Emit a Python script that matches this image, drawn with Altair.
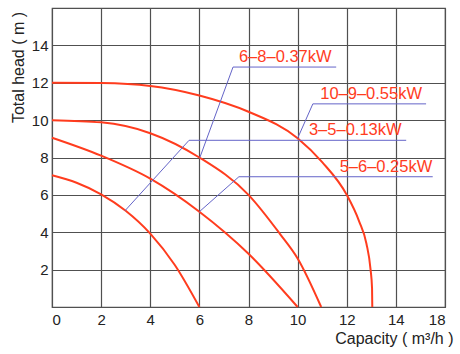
import altair as alt
import pandas as pd

# ---- data ----
curve_names = ["3-5", "5-6", "6-8", "10-9"]
curve_a_x = [0, 1, 2, 3, 4, 5, 6]
curve_a_y = [7.05, 6.65, 6.03, 5.15, 3.93, 2.25, 0]
curve_b_x = [0, 2, 4, 6, 8, 10]
curve_b_y = [9.06, 8.1, 6.87, 5.1, 2.85, 0]
curve_c_x = [0, 2, 4, 6, 8, 9.27, 10, 10.96]
curve_c_y = [10, 9.88, 9.3, 8.0, 6.0, 3.93, 2.6, 0]
curve_d_x = [0, 2, 4, 6, 8, 10, 11, 12, 12.5, 12.8, 12.97, 13.03, 13.04]
curve_d_y = [12, 11.98, 11.83, 11.32, 10.45, 9.03, 7.75, 6.0, 4.6, 3.4, 2.0, 1.0, 0]

label_texts = ["3–5–0.13kW", "5–6–0.25kW", "6–8–0.37kW", "10–9–0.55kW"]
leader_x = [[2.97, 5.58, 14.42], [6.0, 7.61, 15.5], [6.02, 7.37, 11.57], [10.0, 10.62, 15.23]]
leader_y = [[5.15, 8.92, 8.92], [5.1, 6.97, 6.97], [8.0, 12.84, 12.84], [9.03, 10.87, 10.87]]
label_x = [10.46, 11.71, 7.61, 10.92]
label_y = [9.19, 7.24, 13.11, 11.14]

x_tick_values = [0, 2, 4, 6, 8, 10, 12, 14, 16]
x_tick_labels = ["0", "2", "4", "6", "8", "10", "12", "14", "18"]
y_tick_values = [0, 2, 4, 6, 8, 10, 12, 14, 16]
y_tick_labels = ["", "2", "4", "6", "8", "10", "12", "14", ""]

# ---- tables ----
rows = []
for name, xs, ys in zip(curve_names,
                        [curve_a_x, curve_b_x, curve_c_x, curve_d_x],
                        [curve_a_y, curve_b_y, curve_c_y, curve_d_y]):
    for i, (x, y) in enumerate(zip(xs, ys)):
        rows.append({"curve": name, "i": i, "x": x, "y": y})
curves = pd.DataFrame(rows)

lrows = []
for name, xs, ys in zip(label_texts, leader_x, leader_y):
    for i, (x, y) in enumerate(zip(xs, ys)):
        lrows.append({"lead": name, "i": i, "x": x, "y": y})
leaders = pd.DataFrame(lrows)

labels = pd.DataFrame({"text": label_texts, "x": label_x, "y": label_y})


def label_expr(values, texts):
    expr = "''"
    for v, t in reversed(list(zip(values, texts))):
        expr = f"datum.value == {v} ? '{t}' : ({expr})"
    return expr


grid_color = "#505050"
x_scale = alt.Scale(domain=[0, 16], nice=False, zero=False)
y_scale = alt.Scale(domain=[0, 16], nice=False, zero=False)

x_axis = alt.Axis(
    values=x_tick_values, labelExpr=label_expr(x_tick_values, x_tick_labels),
    grid=True, gridColor=grid_color, gridWidth=1.2, gridOpacity=1,
    domain=False, ticks=False, tickSize=0, labelPadding=5,
    labelFontSize=15, labelColor="#222", labelFont="Liberation Sans",
    title="Capacity ( m³/h )", titleFontSize=16, titleFontWeight="normal",
    titleColor="#222", titleFont="Liberation Sans",
    titleAlign="right", titleBaseline="alphabetic", titleX=401, titleY=36,
)
y_axis = alt.Axis(
    values=y_tick_values, labelExpr=label_expr(y_tick_values, y_tick_labels),
    grid=True, gridColor=grid_color, gridWidth=1.2, gridOpacity=1,
    domain=False, ticks=False, tickSize=0, labelPadding=4,
    labelFontSize=15, labelColor="#222", labelFont="Liberation Sans",
    title="Total head ( m )", titleFontSize=16, titleFontWeight="normal",
    titleColor="#222", titleFont="Liberation Sans", titleAngle=270,
    titleAlign="center", titleBaseline="alphabetic", titleX=-29, titleY=59,
)

red = "#ff3c1e"
blue = "#6464c8"

curve_layer = alt.Chart(curves).mark_line(
    color=red, strokeWidth=2, interpolate="monotone"
).encode(
    x=alt.X("x:Q", scale=x_scale, axis=x_axis),
    y=alt.Y("y:Q", scale=y_scale, axis=y_axis),
    detail="curve:N",
    order="i:Q",
)

leader_layer = alt.Chart(leaders).mark_line(
    color=blue, strokeWidth=1
).encode(
    x=alt.X("x:Q", scale=x_scale, axis=x_axis),
    y=alt.Y("y:Q", scale=y_scale, axis=y_axis),
    detail="lead:N",
    order="i:Q",
)

text_layer = alt.Chart(labels).mark_text(
    color=red, fontSize=16.5, font="Liberation Sans", align="left",
    baseline="alphabetic"
).encode(
    x=alt.X("x:Q", scale=x_scale, axis=x_axis),
    y=alt.Y("y:Q", scale=y_scale, axis=y_axis),
    text="text:N",
)

chart = alt.layer(curve_layer, leader_layer, text_layer).properties(
    width=393, height=299,
    padding={"left": 52, "top": 8, "right": 15, "bottom": 47},
    autosize=alt.AutoSizeParams(type="none"),
    background="white",
).configure_view(stroke=grid_color, strokeWidth=1.2)

chart.save("out.html", embed_options={"renderer": "svg", "actions": False})
